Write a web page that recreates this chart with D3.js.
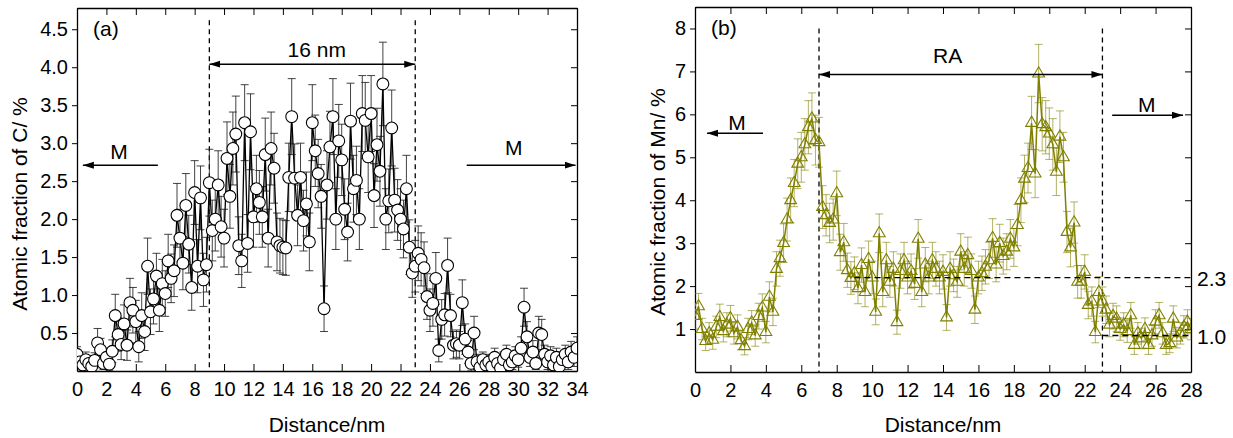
<!DOCTYPE html>
<html>
<head>
<meta charset="utf-8">
<script src="https://cdn.jsdelivr.net/npm/d3@7"></script>
<style>
  body { margin: 0; background: #fff; }
  svg text { font-family: "Liberation Sans", Arial, sans-serif; }
</style>
</head>
<body>
<div id="chart"></div>
<script>
// panel (a): carbon profile
var distA = [
  0,0.2,0.4,0.6,0.8,1,1.2,1.4,1.6,1.8,
  2,2.2,2.4,2.6,2.8,3,3.2,3.4,3.6,3.8,
  4,4.2,4.4,4.6,4.8,5,5.2,5.4,5.6,5.8,
  6,6.2,6.4,6.6,6.8,7,7.2,7.4,7.6,7.8,
  8,8.2,8.4,8.6,8.8,9,9.2,9.4,9.6,9.8,
  10,10.2,10.4,10.6,10.8,11,11.2,11.4,11.6,11.8,
  12,12.2,12.4,12.6,12.8,13,13.2,13.4,13.6,13.8,
  14,14.2,14.4,14.6,14.8,15,15.2,15.4,15.6,15.8,
  16,16.2,16.4,16.6,16.8,17,17.2,17.4,17.6,17.8,
  18,18.2,18.4,18.6,18.8,19,19.2,19.4,19.6,19.8,
  20,20.2,20.4,20.6,20.8,21,21.2,21.4,21.6,21.8,
  22,22.2,22.4,22.6,22.8,23,23.2,23.4,23.6,23.8,
  24,24.2,24.4,24.6,24.8,25,25.2,25.4,25.6,25.8,
  26,26.2,26.4,26.6,26.8,27,27.2,27.4,27.6,27.8,
  28,28.2,28.4,28.6,28.8,29,29.2,29.4,29.6,29.8,
  30,30.2,30.4,30.6,30.8,31,31.2,31.4,31.6,31.8,
  32,32.2,32.4,32.6,32.8,33,33.2,33.4,33.6,33.8,
  34];
var carbon = [
  0.22,0.12,0.08,0.15,0.10,0.06,0.14,0.37,0.28,0.10,
  0.18,0.09,0.26,0.73,0.48,0.35,0.62,0.34,0.90,0.80,
  0.65,0.32,0.73,0.52,1.38,0.78,0.95,1.25,0.80,1.15,
  1.02,1.45,1.22,1.32,2.05,1.75,1.42,2.18,1.67,1.10,
  2.35,1.38,2.28,1.20,1.40,2.48,1.85,2.00,2.45,1.90,
  1.75,2.80,2.30,2.93,3.12,1.65,1.45,3.27,1.68,3.15,
  2.03,2.40,2.22,2.03,2.85,1.75,2.93,2.67,1.70,1.65,
  1.63,1.62,2.55,3.35,2.54,2.05,2.55,1.98,2.20,1.70,
  3.27,2.90,2.60,2.30,0.82,2.45,2.95,3.35,2.00,3.03,
  2.78,2.13,1.83,3.29,2.40,2.51,2.00,3.39,3.30,2.82,
  3.39,2.31,2.98,2.63,3.78,2.00,2.24,3.20,2.25,2.12,
  2.00,1.87,2.40,1.63,1.29,1.38,1.55,1.47,1.36,0.98,
  0.80,0.89,1.22,0.27,0.68,0.74,1.39,0.73,0.34,0.36,
  0.34,0.90,0.42,0.25,0.10,0.50,0.12,0.05,0.15,0.08,
  0.12,0.06,0.18,0.10,0.04,0.15,0.22,0.08,0.12,0.20,
  0.15,0.30,0.84,0.45,0.18,0.25,0.10,0.50,0.48,0.22,
  0.12,0.20,0.08,0.18,0.06,0.15,0.22,0.12,0.25,0.18,
  0.30];
var carbonErr = [
  0.10,0.08,0.08,0.10,0.08,0.08,0.10,0.19,0.15,0.08,
  0.12,0.08,0.15,0.28,0.22,0.20,0.25,0.20,0.32,0.30,
  0.28,0.20,0.30,0.25,0.37,0.30,0.33,0.30,0.28,0.32,
  0.30,0.35,0.32,0.34,0.42,0.38,0.35,0.42,0.38,0.30,
  0.42,0.35,0.42,0.35,0.36,0.44,0.40,0.42,0.45,0.40,
  0.38,0.48,0.42,0.48,0.50,0.38,0.35,0.50,0.38,0.50,
  0.40,0.44,0.42,0.40,0.48,0.38,0.48,0.46,0.38,0.36,
  0.36,0.36,0.45,0.50,0.45,0.40,0.45,0.40,0.42,0.38,
  0.50,0.47,0.45,0.42,0.30,0.45,0.47,0.50,0.40,0.48,
  0.47,0.40,0.38,0.50,0.44,0.45,0.40,0.50,0.50,0.47,
  0.50,0.42,0.48,0.46,0.55,0.40,0.42,0.50,0.42,0.40,
  0.40,0.38,0.44,0.36,0.32,0.34,0.36,0.35,0.34,0.30,
  0.28,0.30,0.34,0.15,0.26,0.28,0.36,0.28,0.18,0.18,
  0.18,0.30,0.20,0.15,0.10,0.22,0.10,0.08,0.10,0.08,
  0.10,0.08,0.12,0.08,0.06,0.10,0.12,0.08,0.10,0.12,
  0.10,0.15,0.25,0.20,0.12,0.15,0.08,0.22,0.20,0.12,
  0.10,0.12,0.08,0.12,0.08,0.10,0.12,0.10,0.14,0.12,
  0.15];

// panel (b): manganese profile
var distB = [
  0,0.2,0.4,0.6,0.8,1,1.2,1.4,1.6,1.8,
  2,2.2,2.4,2.6,2.8,3,3.2,3.4,3.6,3.8,
  4,4.2,4.4,4.6,4.8,5,5.2,5.4,5.6,5.8,
  6,6.2,6.4,6.6,6.8,7,7.2,7.4,7.6,7.8,
  8,8.2,8.4,8.6,8.8,9,9.2,9.4,9.6,9.8,
  10,10.2,10.4,10.6,10.8,11,11.2,11.4,11.6,11.8,
  12,12.2,12.4,12.6,12.8,13,13.2,13.4,13.6,13.8,
  14,14.2,14.4,14.6,14.8,15,15.2,15.4,15.6,15.8,
  16,16.2,16.4,16.6,16.8,17,17.2,17.4,17.6,17.8,
  18,18.2,18.4,18.6,18.8,19,19.2,19.4,19.6,19.8,
  20,20.2,20.4,20.6,20.8,21,21.2,21.4,21.6,21.8,
  22,22.2,22.4,22.6,22.8,23,23.2,23.4,23.6,23.8,
  24,24.2,24.4,24.6,24.8,25,25.2,25.4,25.6,25.8,
  26,26.2,26.4,26.6,26.8,27,27.2,27.4,27.6,27.8,
  28];
var manganese = [
  1.30,1.53,1.00,0.72,0.90,0.75,1.05,1.28,0.95,1.10,
  1.25,0.90,1.05,0.74,0.60,1.00,1.15,0.85,1.30,1.50,
  0.93,1.75,1.40,2.40,2.65,3.00,3.55,4.00,4.40,4.85,
  5.00,5.30,5.70,5.90,5.40,5.35,3.84,3.65,3.47,3.55,
  4.16,2.79,3.02,2.37,2.19,2.30,1.95,2.49,1.86,2.63,
  2.20,1.40,3.23,1.86,2.60,2.10,2.40,1.16,2.35,2.60,
  2.20,2.35,2.05,3.10,1.86,2.50,2.20,2.60,2.40,2.20,
  2.33,1.27,2.40,2.25,2.10,2.80,2.40,2.72,2.35,1.45,
  2.20,2.30,2.45,2.60,3.12,2.50,3.00,2.70,2.80,3.10,
  2.90,3.42,4.00,4.50,4.75,5.80,4.62,6.95,5.77,5.70,
  5.55,5.30,4.66,5.48,5.00,3.26,2.90,3.48,2.10,2.10,
  2.33,1.56,1.64,0.93,1.86,1.64,1.45,1.10,1.30,1.24,
  1.00,1.10,0.95,1.32,0.63,0.90,0.78,1.00,0.63,0.85,
  1.17,1.32,0.90,0.63,0.67,1.24,0.80,0.90,1.05,1.17,
  1.00];
var manganeseErr = [
  0.30,0.30,0.25,0.22,0.25,0.22,0.25,0.30,0.25,0.28,
  0.30,0.25,0.28,0.22,0.20,0.25,0.28,0.25,0.30,0.32,
  0.25,0.35,0.32,0.40,0.42,0.45,0.50,0.52,0.55,0.58,
  0.58,0.60,0.62,0.60,0.58,0.58,0.50,0.48,0.46,0.48,
  0.52,0.42,0.44,0.40,0.38,0.38,0.36,0.40,0.34,0.42,
  0.38,0.30,0.45,0.34,0.42,0.36,0.40,0.28,0.40,0.42,
  0.38,0.40,0.36,0.45,0.34,0.40,0.38,0.42,0.40,0.38,
  0.40,0.30,0.40,0.38,0.36,0.42,0.40,0.42,0.40,0.32,
  0.38,0.40,0.40,0.42,0.45,0.40,0.44,0.42,0.42,0.45,
  0.44,0.48,0.52,0.55,0.58,0.62,0.56,0.68,0.62,0.62,
  0.60,0.60,0.55,0.60,0.58,0.48,0.45,0.48,0.38,0.38,
  0.40,0.32,0.34,0.25,0.36,0.34,0.32,0.28,0.30,0.30,
  0.26,0.28,0.26,0.30,0.22,0.25,0.24,0.26,0.22,0.25,
  0.28,0.30,0.25,0.22,0.22,0.30,0.24,0.25,0.26,0.28,
  0.25];

// ticks
var xTicksA = [0,2,4,6,8,10,12,14,16,18,20,22,24,26,28,30,32,34];
var yTicksA = [0.5,1.0,1.5,2.0,2.5,3.0,3.5,4.0,4.5];
var xTicksB = [0,2,4,6,8,10,12,14,16,18,20,22,24,26,28];
var yTicksB = [1,2,3,4,5,6,7,8];

// boundaries and annotations
var bordersA = [9, 23];
var bordersB = [7, 23];
var levelsB = [{ y: 2.2, from: 9, label: "2.3" }, { y: 0.85, from: 23, label: "1.0" }];

var W = 1233, H = 438;
var svg = d3.select('#chart').append('svg')
    .attr('width', W)
    .attr('height', H);

var defs = svg.append('defs');
defs.append('marker')
    .attr('id', 'arrow')
    .attr('markerUnits', 'userSpaceOnUse')
    .attr('markerWidth', 12).attr('markerHeight', 8)
    .attr('refX', 11).attr('refY', 4)
    .attr('orient', 'auto-start-reverse')
    .append('path')
    .attr('d', 'M0,0.5L11,4L0,7.5Z')
    .attr('fill', '#000');

function drawPanel(o) {
    var x = d3.scaleLinear().domain(o.xDomain).range([o.left, o.right]);
    var y = d3.scaleLinear().domain(o.yDomain).range([o.bottom, o.top]);
    var g = svg.append('g');

    defs.append('clipPath').attr('id', o.id + 'clip')
        .append('rect')
        .attr('x', o.left).attr('y', o.top)
        .attr('width', o.right - o.left).attr('height', o.bottom - o.top);

    // axes
    g.append('g').attr('transform', 'translate(0,' + o.bottom + ')')
        .call(d3.axisBottom(x).tickValues(o.xTicks).tickSize(-7).tickSizeOuter(0).tickPadding(11));
    g.append('g').attr('transform', 'translate(0,' + o.top + ')')
        .call(d3.axisTop(x).tickValues(o.xTicks).tickSize(-7).tickSizeOuter(0).tickFormat(''));
    g.append('g').attr('transform', 'translate(' + o.left + ',0)')
        .call(d3.axisLeft(y).tickValues(o.yTicks).tickSize(5).tickSizeOuter(0).tickPadding(4).tickFormat(o.yFormat));
    g.append('g').attr('transform', 'translate(' + o.right + ',0)')
        .call(d3.axisRight(y).tickValues(o.yTicks).tickSize(-6).tickSizeOuter(0).tickFormat(''));
    g.selectAll('.domain').attr('stroke', '#000').attr('stroke-width', 1.3);
    g.selectAll('.tick line').attr('stroke', '#000');
    g.selectAll('.tick text').attr('font-size', 20).attr('fill', '#000')
        .style('font-family', '"Liberation Sans", Arial, sans-serif');

    // titles
    g.append('text')
        .attr('x', (o.left + o.right) / 2).attr('y', 432)
        .attr('text-anchor', 'middle').attr('font-size', 21)
        .text('Distance/nm');
    g.append('text')
        .attr('transform', 'translate(' + (o.left - o.yTitleGap) + ',' + o.yTitleMid + ') rotate(-90)')
        .attr('text-anchor', 'middle').attr('font-size', 21)
        .text(o.yTitle);
    g.append('text')
        .attr('x', o.left + 16).attr('y', o.top + 28)
        .attr('font-size', 21)
        .text(o.tag);

    // region boundaries
    o.borders.forEach(function(b) {
        g.append('line')
            .attr('x1', x(b)).attr('x2', x(b))
            .attr('y1', y(o.borderTop)).attr('y2', o.bottom)
            .attr('stroke', '#000').attr('stroke-width', 1.3)
            .attr('stroke-dasharray', '5,4');
    });

    var data = o.dist.map(function(d, i) { return { x: d, v: o.vals[i], e: o.errs[i] }; });
    var plot = g.append('g').attr('clip-path', 'url(#' + o.id + 'clip)');

    // error bars
    var eb = plot.append('g')
        .attr('stroke', o.errColor).attr('stroke-width', 1)
        .attr('stroke-opacity', o.errOpacity).attr('fill', 'none');
    eb.selectAll('path').data(data).enter().append('path')
        .attr('d', function(d) {
            var cx = x(d.x), y0 = y(d.v - d.e), y1 = y(d.v + d.e);
            return 'M' + cx + ',' + y0 + 'V' + y1 +
                'M' + (cx - 4) + ',' + y1 + 'H' + (cx + 4) +
                'M' + (cx - 4) + ',' + y0 + 'H' + (cx + 4);
        });

    var line = d3.line()
        .x(function(d) { return x(d.x); })
        .y(function(d) { return y(d.v); });

    var path = function() {
        plot.append('path')
            .attr('fill', 'none')
            .attr('stroke', o.lineColor)
            .attr('stroke-width', o.lineWidth)
            .attr('d', line(data));
    };

    if (o.lineFirst) path();
    plot.selectAll('.mk').data(data).enter().append('path')
        .attr('class', 'mk')
        .attr('transform', function(d) { return 'translate(' + x(d.x) + ',' + y(d.v) + ')'; })
        .attr('d', d3.symbol().type(o.symbol).size(o.symbolSize))
        .attr('fill', o.markerFill)
        .attr('stroke', o.markerColor)
        .attr('stroke-width', 1.1);
    if (!o.lineFirst) path();

    // arrows
    o.arrows.forEach(function(a) {
        var ln = g.append('line')
            .attr('x1', x(a.from)).attr('x2', x(a.to))
            .attr('y1', y(a.y)).attr('y2', y(a.y))
            .attr('stroke', '#000').attr('stroke-width', 1.5)
            .attr('marker-end', 'url(#arrow)');
        if (a.both) ln.attr('marker-start', 'url(#arrow)');
        g.append('text')
            .attr('x', x(a.labelX)).attr('y', y(a.y) - a.labelDy)
            .attr('text-anchor', 'middle').attr('font-size', 21)
            .text(a.label);
    });

    // level guides (panel b)
    (o.levels || []).forEach(function(l) {
        g.append('line')
            .attr('x1', x(l.from)).attr('x2', o.right)
            .attr('y1', y(l.y)).attr('y2', y(l.y))
            .attr('stroke', '#000').attr('stroke-width', 1.3)
            .attr('stroke-dasharray', '6,4');
        g.append('text')
            .attr('x', o.right + 6).attr('y', y(l.y) + 8)
            .attr('font-size', 21)
            .text(l.label);
    });
}

drawPanel({
    id: 'a', left: 77, right: 577, top: 8, bottom: 371,
    xDomain: [0, 34], yDomain: [0, 4.78],
    xTicks: xTicksA, yTicks: yTicksA, yFormat: d3.format('.1f'),
    yTitle: 'Atomic fraction of C/ %', yTitleGap: 50, yTitleMid: 204, tag: '(a)',
    dist: distA, vals: carbon, errs: carbonErr,
    errColor: '#222', errOpacity: 0.85,
    lineColor: '#000', lineWidth: 1.3, lineFirst: true,
    symbol: d3.symbolCircle, symbolSize: 110, markerFill: '#fff', markerColor: '#000',
    borders: bordersA, borderTop: 4.62,
    arrows: [
        { from: 9, to: 23, y: 4.04, both: true, label: '16 nm', labelX: 16.3, labelDy: 7 },
        { from: 5.5, to: 0.4, y: 2.71, label: 'M', labelX: 2.86, labelDy: 6 },
        { from: 26.5, to: 33.9, y: 2.71, label: 'M', labelX: 29.7, labelDy: 10 }
    ]
});

drawPanel({
    id: 'b', left: 695, right: 1191, top: 7, bottom: 372,
    xDomain: [0, 28], yDomain: [0, 8.5],
    xTicks: xTicksB, yTicks: yTicksB, yFormat: d3.format('d'),
    yTitle: 'Atomic fraction of Mn/ %', yTitleGap: 30, yTitleMid: 202, tag: '(b)',
    dist: distB, vals: manganese, errs: manganeseErr,
    errColor: '#808000', errOpacity: 0.6,
    lineColor: '#808000', lineWidth: 1.5, lineFirst: false,
    symbol: d3.symbolTriangle, symbolSize: 60, markerFill: 'none', markerColor: '#808000',
    borders: bordersB, borderTop: 8.0,
    levels: levelsB,
    arrows: [
        { from: 7, to: 23, y: 6.93, both: true, label: 'RA', labelX: 14.26, labelDy: 11 },
        { from: 3.84, to: 0.68, y: 5.56, label: 'M', labelX: 2.37, labelDy: 3 },
        { from: 23.55, to: 27.55, y: 5.98, label: 'M', labelX: 25.5, labelDy: 3 }
    ]
});
</script>
</body>
</html>
